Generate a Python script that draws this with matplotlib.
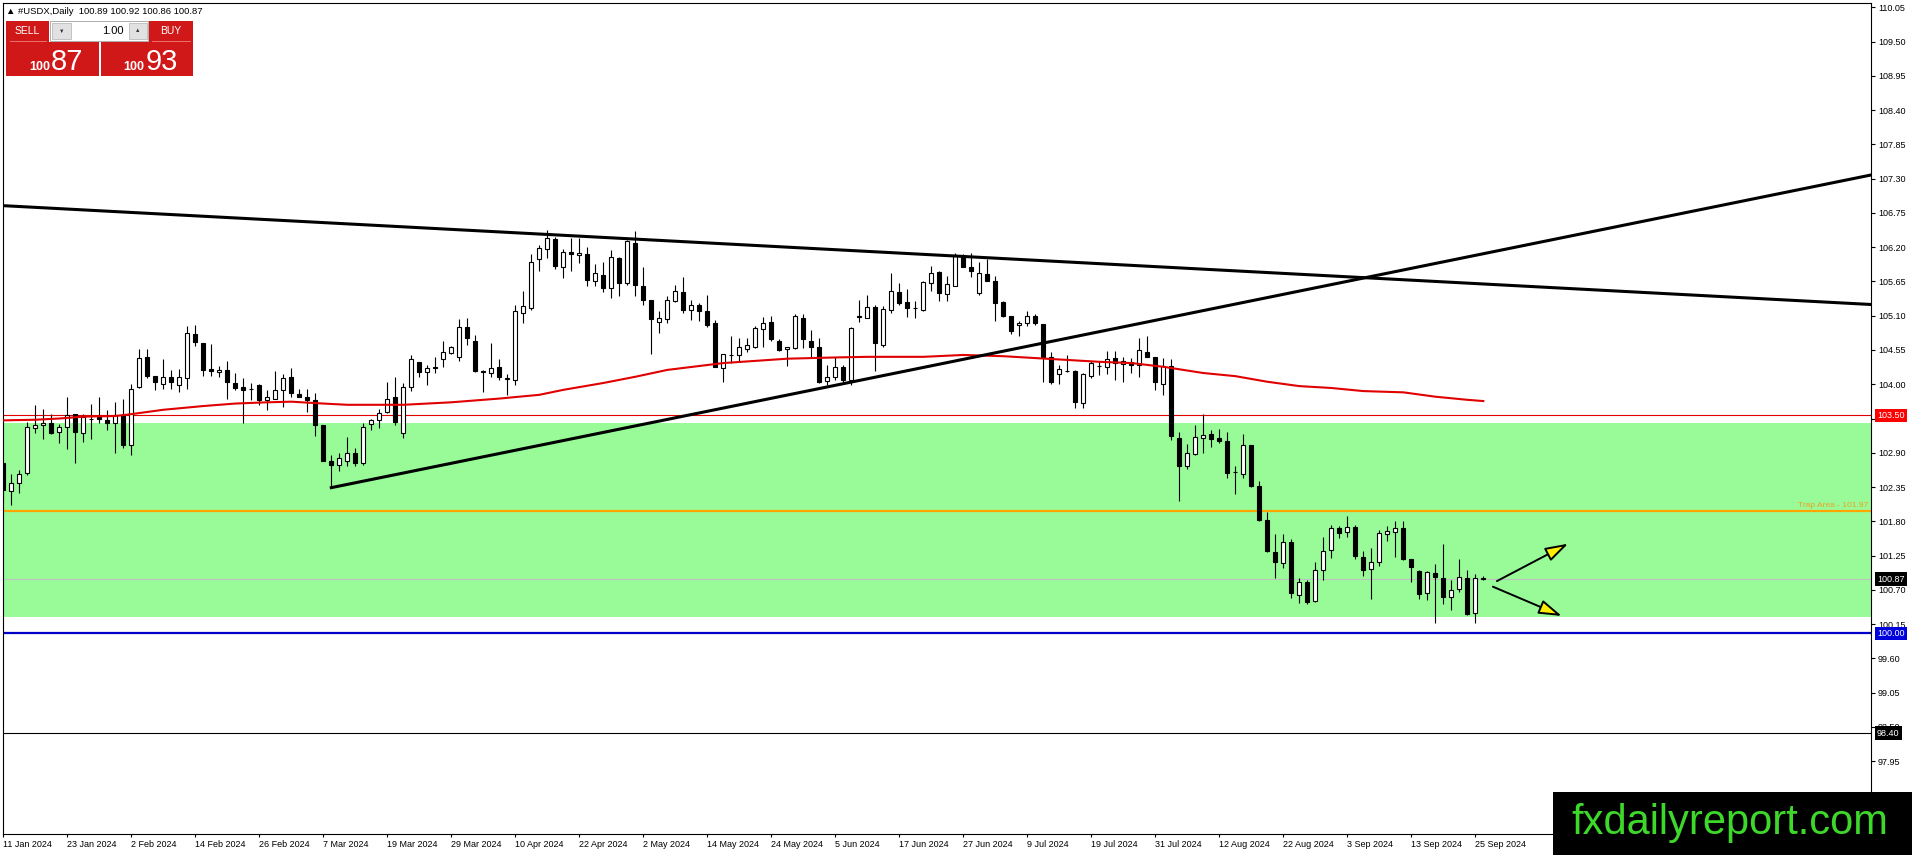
import matplotlib
matplotlib.use("Agg")
import matplotlib.pyplot as plt
import matplotlib.transforms as mtransforms
from matplotlib.patches import Rectangle, FancyArrowPatch

plt.rcParams['font.family'] = ['Liberation Sans', 'DejaVu Sans']

# daily candles, 11 Jan 2024 .. 26 Sep 2024 (one entry per bar)
opens = [
    102.73, 102.29, 102.41, 102.57, 103.29, 103.34, 103.37, 103.23, 103.31, 103.52,
    103.21, 103.44, 103.48, 103.43, 103.37, 103.50, 103.02, 103.96, 104.43, 104.14,
    104.00, 104.11, 103.99, 104.10, 104.81, 104.67, 104.24, 104.19, 104.23, 104.02,
    103.95, 103.92, 103.99, 103.75, 103.77, 103.90, 104.11, 103.84, 103.79, 103.75,
    103.34, 102.76, 102.71, 102.77, 102.89, 102.73, 103.36, 103.43, 103.55, 103.80,
    103.21, 103.95, 104.35, 104.19, 104.27, 104.40, 104.50, 104.43, 104.92, 104.70,
    104.21, 104.18, 104.27, 104.08, 104.07, 105.15, 105.23, 106.01, 106.17, 106.33,
    105.89, 106.13, 106.07, 106.09, 105.66, 105.76, 105.54, 106.03, 105.62, 106.26,
    105.58, 105.35, 105.00, 105.04, 105.33, 105.48, 105.19, 105.27, 105.17, 104.98,
    104.26, 104.47, 104.47, 104.57, 104.59, 104.88, 105.00, 104.70, 104.56, 104.58,
    105.07, 104.70, 104.59, 104.05, 104.11, 104.27, 104.07, 105.10, 105.07, 105.24,
    104.63, 105.19, 105.48, 105.32, 105.23, 105.19, 105.62, 105.80, 105.45, 105.58,
    106.06, 105.89, 105.47, 105.77, 105.65, 105.32, 105.09, 104.95, 104.98, 105.09,
    104.96, 104.43, 104.16, 104.22, 104.22, 103.70, 104.13, 104.29, 104.27, 104.42,
    104.32, 104.35, 104.31, 104.52, 104.43, 104.01, 104.29, 103.13, 102.69, 102.88,
    103.13, 103.20, 103.13, 103.09, 102.59, 102.56, 103.02, 102.37, 101.82, 101.31,
    101.13, 101.47, 100.62, 100.83, 100.52, 101.02, 101.34, 101.69, 101.62, 101.71,
    101.23, 101.04, 101.14, 101.59, 101.62, 101.69, 101.19, 101.00, 100.65, 100.97,
    100.89, 100.59, 100.71, 100.89, 100.32, 100.89,
]
highs = [
    102.73, 102.56, 102.63, 103.40, 103.67, 103.60, 103.52, 103.36, 103.79, 103.53,
    103.53, 103.69, 103.79, 103.59, 103.71, 103.77, 104.00, 104.56, 104.56, 104.14,
    104.40, 104.23, 104.24, 104.94, 104.95, 104.67, 104.64, 104.29, 104.38, 104.18,
    104.10, 104.02, 104.00, 103.91, 104.21, 104.17, 104.26, 103.92, 103.92, 103.86,
    103.35, 102.87, 102.89, 103.15, 102.97, 103.37, 103.45, 103.61, 104.04, 104.11,
    104.02, 104.47, 104.36, 104.31, 104.43, 104.70, 104.61, 105.04, 105.07, 104.79,
    104.23, 104.67, 104.41, 104.16, 105.27, 105.49, 106.09, 106.23, 106.48, 106.37,
    106.17, 106.34, 106.34, 106.21, 105.93, 105.97, 106.15, 106.05, 106.32, 106.46,
    105.89, 105.36, 105.17, 105.41, 105.60, 105.72, 105.36, 105.30, 105.43, 105.03,
    104.49, 104.77, 104.75, 104.74, 104.94, 105.08, 105.10, 104.73, 104.60, 105.13,
    105.12, 104.87, 104.74, 104.31, 104.43, 104.31, 104.92, 105.36, 105.43, 105.27,
    105.25, 105.78, 105.62, 105.53, 105.33, 105.65, 105.90, 105.81, 105.74, 106.10,
    106.09, 106.10, 105.96, 106.01, 105.74, 105.33, 105.10, 105.01, 105.17, 105.13,
    104.97, 104.51, 104.31, 104.47, 104.23, 104.18, 104.38, 104.38, 104.53, 104.53,
    104.43, 104.42, 104.74, 104.78, 104.44, 104.42, 104.40, 103.24, 103.04, 103.35,
    103.53, 103.27, 103.28, 103.23, 102.68, 103.20, 103.03, 102.45, 101.95, 101.59,
    101.59, 101.51, 100.89, 100.86, 101.14, 101.54, 101.74, 101.73, 101.88, 101.74,
    101.33, 101.37, 101.66, 101.73, 101.80, 101.80, 101.20, 101.02, 101.00, 101.12,
    101.44, 100.86, 101.19, 101.02, 100.96, 100.92,
]
lows = [
    102.12, 102.06, 102.26, 102.55, 103.22, 103.12, 103.20, 103.06, 102.96, 102.73,
    103.08, 103.12, 103.37, 103.27, 102.90, 102.98, 102.86, 103.94, 104.10, 103.90,
    103.92, 103.92, 103.87, 103.93, 104.62, 104.14, 104.14, 104.11, 103.76, 103.91,
    103.38, 103.74, 103.67, 103.59, 103.76, 103.63, 103.80, 103.79, 103.55, 103.17,
    102.76, 102.34, 102.60, 102.68, 102.68, 102.70, 103.27, 103.29, 103.54, 103.35,
    103.13, 103.89, 104.11, 103.99, 104.18, 104.27, 104.48, 104.38, 104.63, 104.19,
    103.88, 104.11, 104.07, 103.83, 103.98, 104.99, 105.19, 105.81, 106.03, 105.85,
    105.71, 105.82, 105.94, 105.58, 105.57, 105.48, 105.38, 105.42, 105.59, 105.42,
    105.27, 104.48, 104.83, 104.99, 105.32, 105.15, 105.03, 105.02, 104.92, 104.27,
    104.04, 104.34, 104.36, 104.52, 104.58, 104.59, 104.69, 104.53, 104.29, 104.57,
    104.58, 104.43, 104.02, 103.99, 104.07, 104.04, 103.98, 105.00, 105.06, 104.21,
    104.60, 105.15, 105.27, 105.08, 105.06, 105.17, 105.50, 105.33, 105.33, 105.57,
    105.88, 105.72, 105.43, 105.65, 105.01, 105.08, 104.81, 104.77, 104.94, 104.95,
    104.04, 104.01, 104.01, 104.19, 103.62, 103.62, 104.10, 104.15, 104.17, 104.07,
    104.04, 104.18, 104.11, 104.43, 103.90, 103.82, 103.10, 102.12, 102.64, 102.87,
    102.89, 102.99, 103.05, 102.50, 102.23, 102.50, 102.35, 101.81, 101.31, 100.89,
    101.05, 100.57, 100.49, 100.47, 100.51, 100.85, 101.21, 101.53, 101.54, 101.19,
    100.92, 100.55, 101.09, 101.49, 101.23, 101.18, 100.83, 100.55, 100.54, 100.17,
    100.48, 100.37, 100.67, 100.30, 100.17, 100.86,
]
closes = [
    102.30, 102.41, 102.56, 103.31, 103.34, 103.37, 103.21, 103.32, 103.51, 103.23,
    103.47, 103.45, 103.44, 103.37, 103.50, 103.03, 103.92, 104.42, 104.13, 104.03,
    104.11, 104.04, 104.11, 104.83, 104.68, 104.23, 104.22, 104.23, 104.03, 103.94,
    103.90, 103.92, 103.74, 103.79, 103.91, 104.10, 103.86, 103.80, 103.74, 103.34,
    102.77, 102.70, 102.81, 102.89, 102.74, 103.31, 103.42, 103.54, 103.77, 103.39,
    103.96, 104.40, 104.19, 104.26, 104.26, 104.51, 104.60, 104.92, 104.74, 104.22,
    104.20, 104.26, 104.11, 104.10, 105.17, 105.25, 105.97, 106.18, 106.34, 105.90,
    106.13, 106.09, 106.10, 105.67, 105.79, 105.55, 106.05, 105.63, 106.30, 105.59,
    105.36, 105.04, 105.06, 105.35, 105.49, 105.19, 105.28, 105.18, 104.95, 104.28,
    104.48, 104.47, 104.59, 104.63, 104.91, 104.99, 104.72, 104.55, 104.59, 105.10,
    104.72, 104.59, 104.03, 104.12, 104.28, 104.07, 104.91, 105.08, 105.24, 104.67,
    105.20, 105.49, 105.30, 105.23, 105.22, 105.64, 105.79, 105.46, 105.61, 106.08,
    105.89, 105.81, 105.78, 105.66, 105.31, 105.10, 104.85, 104.99, 105.09, 104.98,
    104.44, 104.04, 104.24, 104.22, 103.71, 104.17, 104.34, 104.29, 104.40, 104.34,
    104.38, 104.31, 104.55, 104.44, 104.03, 104.29, 103.17, 102.69, 102.90, 103.15,
    103.19, 103.12, 103.09, 102.57, 102.59, 103.03, 102.36, 101.82, 101.33, 101.14,
    101.47, 100.65, 100.83, 100.51, 101.01, 101.33, 101.69, 101.61, 101.71, 101.25,
    101.01, 101.15, 101.61, 101.64, 101.70, 101.20, 101.07, 100.63, 100.98, 100.90,
    100.59, 100.70, 100.90, 100.31, 100.89, 100.87,
]

# red moving average, read at some bars
ma_bars = [0, 4, 7, 10, 14, 16, 20, 25, 29, 33, 36, 40, 43, 50, 56, 62, 67, 70, 75,
           79, 83, 90, 98, 104, 108, 115, 120, 125, 129, 137, 141, 145, 150, 154,
           158, 162, 166, 170, 175, 179, 183, 185]
ma_values = [103.42, 103.43, 103.45, 103.48, 103.49, 103.52, 103.59, 103.65, 103.69,
             103.71, 103.72, 103.69, 103.67, 103.67, 103.71, 103.77, 103.83, 103.91,
             104.02, 104.12, 104.23, 104.34, 104.41, 104.43, 104.44, 104.44, 104.47,
             104.45, 104.42, 104.36, 104.34, 104.28, 104.18, 104.13, 104.04, 103.97,
             103.94, 103.89, 103.87, 103.80, 103.75, 103.73]

date_bars = list(range(0, 185, 8))
date_labels = ['11 Jan 2024', '23 Jan 2024', '2 Feb 2024', '14 Feb 2024', '26 Feb 2024',
               '7 Mar 2024', '19 Mar 2024', '29 Mar 2024', '10 Apr 2024', '22 Apr 2024',
               '2 May 2024', '14 May 2024', '24 May 2024', '5 Jun 2024', '17 Jun 2024',
               '27 Jun 2024', '9 Jul 2024', '19 Jul 2024', '31 Jul 2024', '12 Aug 2024',
               '22 Aug 2024', '3 Sep 2024', '13 Sep 2024', '25 Sep 2024']
price_ticks = [110.05, 109.50, 108.95, 108.40, 107.85, 107.30, 106.75, 106.20, 105.65,
               105.10, 104.55, 104.00, 103.45, 102.90, 102.35, 101.80, 101.25, 100.70,
               100.15, 99.60, 99.05, 98.50, 97.95]

# drawn objects
zone_low, zone_high = 100.27, 103.38
trap_level = 101.97
resist_level = 103.50
support_level = 100.00
low_level = 98.40
bid_price = 100.87
falling_line = ([-0.5, 233.5], [106.87, 105.28])
rising_line = ([41, 233.5], [102.34, 107.36])
arrow_up = ((186.7, 100.84), (195.6, 101.44))
arrow_down = ((186.2, 100.75), (194.8, 100.28))

W, H = 1912, 855
fig = plt.figure(figsize=(W / 100, H / 100), dpi=100)
ax = fig.add_axes([3 / W, 1 - 834 / H, 1868 / W, 831 / H])
ax.set_xlim(-0.04, 233.46)
ax.set_ylim(96.78, 110.12)

ax.axhspan(zone_low, zone_high, fc='#98fb98', ec='none', zorder=0.5)
ax.axhline(resist_level, color='#e00000', lw=0.8, zorder=1)
ax.axhline(trap_level, color='#ffa500', lw=1.6, zorder=1)
ax.axhline(bid_price, color='#c0c0c0', lw=0.8, zorder=1)
ax.axhline(support_level, color='#0000c8', lw=1.6, zorder=1)
ax.axhline(low_level, color='black', lw=0.8, zorder=1)

idx = list(range(len(opens)))
ax.vlines(idx, lows, highs, color='black', lw=0.8, zorder=3)
bottoms = [min(o, c) for o, c in zip(opens, closes)]
heights = [abs(c - o) for o, c in zip(opens, closes)]
colors = ['white' if c >= o else 'black' for o, c in zip(opens, closes)]
ax.bar(idx, heights, bottom=bottoms, width=0.5, color=colors,
       edgecolor='black', linewidth=0.8, zorder=4)

ax.plot(ma_bars, ma_values, color='#e00000', lw=1.5, zorder=5)
ax.plot(*falling_line, color='black', lw=2.2, zorder=6)
ax.plot(*rising_line, color='black', lw=2.2, zorder=6)

for a, b in (arrow_up, arrow_down):
    ax.add_patch(FancyArrowPatch(a, b, arrowstyle='-|>,head_length=0.7,head_width=0.22',
                                 mutation_scale=20, fc='#ffee00', ec='black', lw=1.4,
                                 shrinkA=0, shrinkB=0, zorder=7))

ax.set_xticks(date_bars)
ax.set_xticklabels(date_labels, ha='left')
ax.yaxis.tick_right()
ax.set_yticks(price_ticks)
ax.set_yticklabels([f'{p:.2f}' for p in price_ticks])
ax.tick_params(axis='x', direction='out', length=2.5, width=0.8, pad=1.5, labelsize=6.5)
ax.tick_params(axis='y', direction='out', length=3, width=0.8, pad=2, labelsize=6.5)
for s in ax.spines.values():
    s.set_linewidth(0.8)

tr = mtransforms.blended_transform_factory(ax.transAxes, ax.transData)
ax.text(1 - 3 / 1868, trap_level + 0.02, 'Trap Area - 101.97', transform=tr,
        ha='right', va='bottom', fontsize=6, color='#f0a020', zorder=8)
for level, txt, bg in [(resist_level, '103.50', '#ff0000'), (bid_price, '100.87', 'black'),
                       (support_level, '100.00', '#0000dd'), (low_level, '98.40', 'black')]:
    ax.text(1 + 6 / 1868, level, txt, transform=tr, ha='left', va='center',
            fontsize=6.5, color='white', clip_on=False, zorder=9,
            bbox=dict(boxstyle='square,pad=0.25', fc=bg, ec='none'))

# trading panel top-left
pn = fig.add_axes([0, 1 - 80 / H, 220 / W, 80 / H])
pn.set_xlim(0, 220)
pn.set_ylim(80, 0)
pn.set_axis_off()
red = '#d01818'
pn.text(6, 11, '\u25b2 #USDX,Daily  100.89 100.92 100.86 100.87', fontsize=6.8,
        va='center', ha='left')
pn.add_patch(Rectangle((6, 21), 43, 21, fc=red, ec='none'))
pn.add_patch(Rectangle((149, 21), 44, 21, fc=red, ec='none'))
pn.add_patch(Rectangle((6, 42), 93, 34, fc=red, ec='none'))
pn.add_patch(Rectangle((101, 42), 92, 34, fc=red, ec='none'))
pn.plot([10, 46], [41, 41], color='#f08080', lw=0.6)
pn.plot([152, 190], [41, 41], color='#f08080', lw=0.6)
pn.add_patch(Rectangle((50, 21), 98, 20, fc='white', ec='#a0a0a0', lw=0.6))
pn.add_patch(Rectangle((52, 23), 19, 16, fc='#e1e1e1', ec='#b0b0b0', lw=0.5))
pn.add_patch(Rectangle((129, 23), 18, 16, fc='#e1e1e1', ec='#b0b0b0', lw=0.5))
pn.text(61.5, 31, '\u25bc', fontsize=4, ha='center', va='center', color='#333333')
pn.text(138, 31, '\u25b2', fontsize=4, ha='center', va='center', color='#333333')
pn.text(124, 31, '1.00', fontsize=8, ha='right', va='center')
pn.text(27, 31.5, 'SELL', fontsize=7.5, ha='center', va='center', color='white')
pn.text(171, 31.5, 'BUY', fontsize=7.5, ha='center', va='center', color='white')
pn.text(29, 70, '100', fontsize=9, fontweight='bold', ha='left', va='baseline', color='white')
pn.text(51, 70, '87', fontsize=21, ha='left', va='baseline', color='white')
pn.text(123, 70, '100', fontsize=9, fontweight='bold', ha='left', va='baseline', color='white')
pn.text(146, 70, '93', fontsize=21, ha='left', va='baseline', color='white')

# watermark bottom-right
wm = fig.add_axes([1553 / W, 0, (W - 1553) / W, 63 / H])
wm.set_axis_off()
wm.add_patch(Rectangle((0, 0), 1, 1, transform=wm.transAxes, fc='black', ec='none',
                       clip_on=False))
wm.text(18 / 359, 21 / 63, 'fxdailyreport.com', transform=wm.transAxes, color='#3ed82b',
        fontsize=30, ha='left', va='baseline')

fig.savefig('out.png', dpi=100)
